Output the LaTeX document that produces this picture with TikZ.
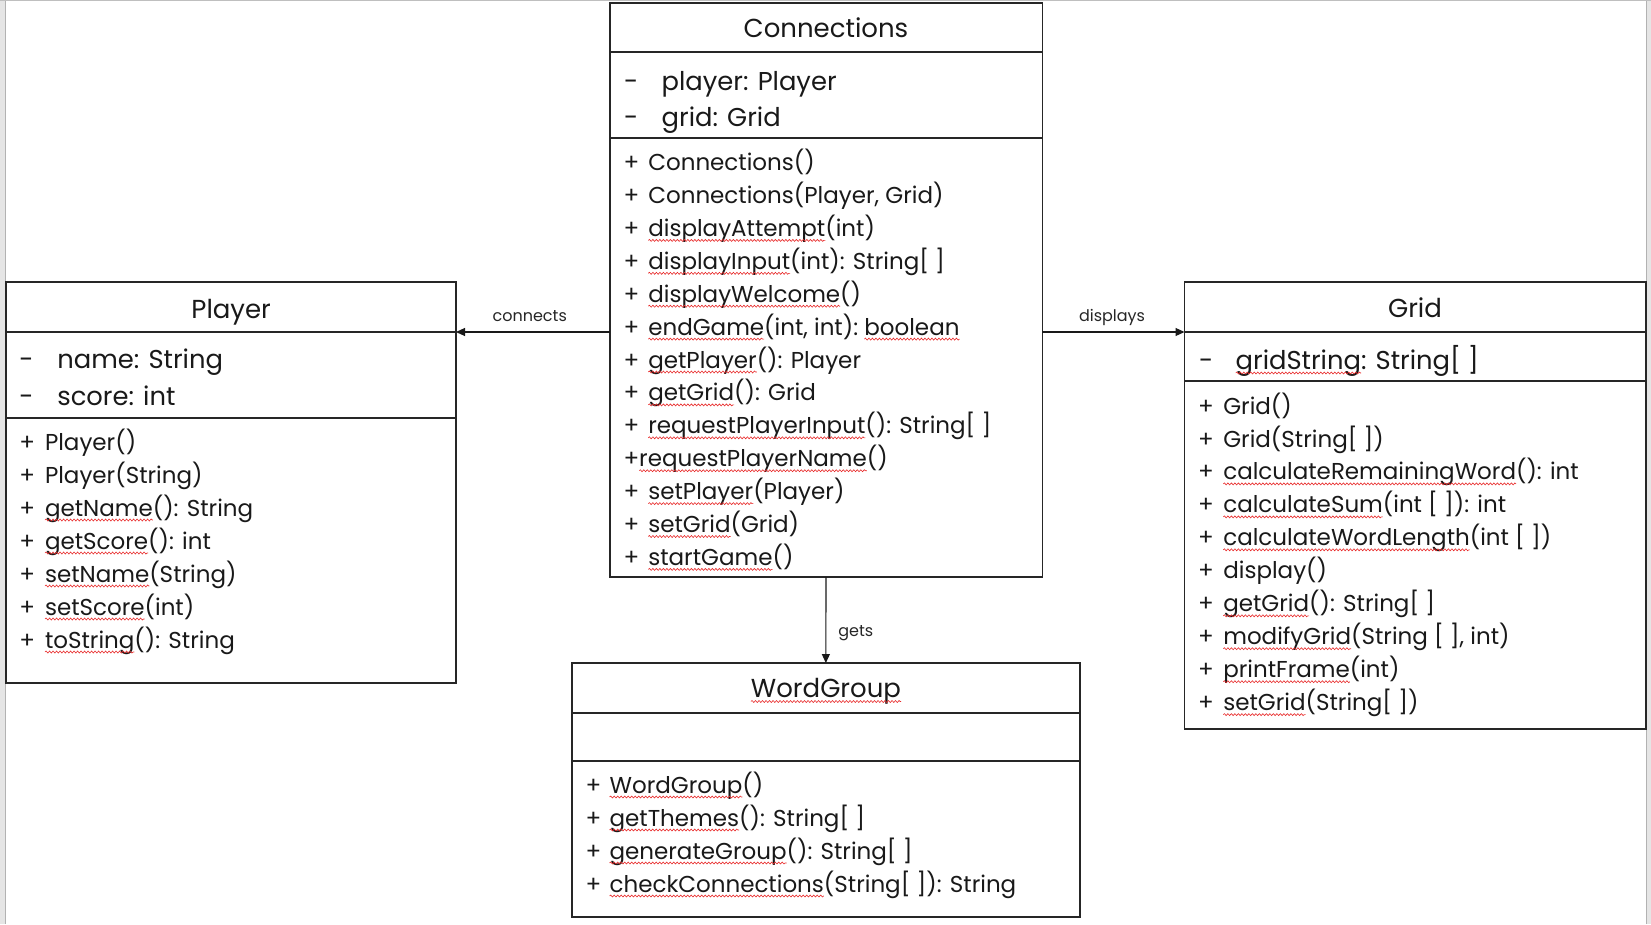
\documentclass[tikz,border=0pt]{standalone}
\usepackage{fontspec}
\setmainfont{Poppins}
\usetikzlibrary{arrows.meta,decorations.pathmorphing}
\newcounter{lnc}
\newcommand\Tp[3]{\stepcounter{lnc}\node[#1,anchor=base west] (p\thelnc) at #2 {#3};\coordinate (nx) at (p\thelnc.base east);}
\newcommand\Tq[3]{\stepcounter{lnc}\node[#1,anchor=base west] (q\thelnc) at #2 {#3};\draw[squig] ([yshift=-4pt]q\thelnc.base west) -- ([yshift=-4pt]q\thelnc.base east);\coordinate (nx) at (q\thelnc.base east);}
\begin{document}
\begin{tikzpicture}[x=1pt,y=-1pt,
  classbox/.style={draw=black!85, line width=1.8pt, rectangle, inner sep=0, outer sep=0, anchor=north west},
  sepline/.style={draw=black!85, line width=1.8pt},
  ttl/.style={font=\fontsize{26}{30}\selectfont, text=black!90, inner sep=0, outer sep=0},
  attxt/.style={font=\fontsize{25.8}{30}\selectfont, text=black!90, inner sep=0, outer sep=0},
  mt/.style={font=\fontsize{23}{26}\selectfont, text=black!90, inner sep=0, outer sep=0},
  lbl/.style={font=\fontsize{16}{20}\selectfont, text=black!85, inner sep=0, outer sep=0},
  arr/.style={draw=black!90, line width=1.1pt, -{Triangle[length=9pt,width=8pt]}},
  squig/.style={draw={rgb,255:red,232;green,40;blue,40}, line width=0.6pt, decorate, decoration={snake, amplitude=1pt, segment length=3.5pt}}
]
\useasboundingbox (0,0) rectangle (1651,924);
\fill[white] (0,0) rectangle (1651,924);
% screenshot frame
\fill[black!10] (0,0) rectangle (5,924);
\draw[black!30, line width=1pt] (5.5,0) -- (5.5,924);
\fill[black!10] (1647,0) rectangle (1651,924);
\draw[black!30, line width=1pt] (1646.8,0) -- (1646.8,924);
\draw[black!25, line width=1.2pt] (0,0.6) -- (1651,0.6);

% class boxes
\node[classbox, minimum width=432.8pt, minimum height=574pt] (conn) at (609.6,3) {};
\node[classbox, minimum width=449.7pt, minimum height=401pt] (player) at (6.3,282) {};
\node[classbox, minimum width=461.2pt, minimum height=446.6pt] (grid) at (1184.5,282) {};
\node[classbox, minimum width=508.3pt, minimum height=254pt] (wg) at (571.7,663) {};

% separators
\draw[sepline] ([yshift=-48.6pt]conn.north west) -- ([yshift=-48.6pt]conn.north east);
\draw[sepline] ([yshift=-135pt]conn.north west) -- ([yshift=-135pt]conn.north east);
\draw[sepline] ([yshift=-50pt]player.north west) -- ([yshift=-50pt]player.north east);
\draw[sepline] ([yshift=-136pt]player.north west) -- ([yshift=-136pt]player.north east);
\draw[sepline] ([yshift=-50pt]grid.north west) -- ([yshift=-50pt]grid.north east);
\draw[sepline] ([yshift=-99pt]grid.north west) -- ([yshift=-99pt]grid.north east);
\draw[sepline] ([yshift=-50pt]wg.north west) -- ([yshift=-50pt]wg.north east);
\draw[sepline] ([yshift=-98pt]wg.north west) -- ([yshift=-98pt]wg.north east);

% titles
\node[ttl, anchor=base] (tconn) at (826,37.3) {Connections};
\node[ttl, anchor=base] (tplayer) at (231.2,318.3) {Player};
\node[ttl, anchor=base] (tgrid) at (1415,317.7) {Grid};
\node[ttl, anchor=base] (twg) at (826,697.5) {WordGroup};
\draw[squig] ([yshift=-4pt]twg.base west) -- ([yshift=-4pt]twg.base east);

% Connections attributes
\Tp{attxt}{(624,90)}{-}
\Tp{attxt}{(661.7,90)}{player: Player}
\Tp{attxt}{(624,126.7)}{-}
\Tp{attxt}{(661.7,126.7)}{grid: Grid}

% Connections methods
\Tp{mt}{(623.5,170.6)}{+}\Tp{mt}{(648.3,170.6)}{Connections()}
\Tp{mt}{(623.5,203.5)}{+}\Tp{mt}{(648.3,203.5)}{Connections(Player, Grid)}
\Tp{mt}{(623.5,236.4)}{+}\Tq{mt}{(648.3,236.4)}{displayAttempt}\Tp{mt}{(nx)}{(int)}
\Tp{mt}{(623.5,269.3)}{+}\Tq{mt}{(648.3,269.3)}{displayInput}\Tp{mt}{(nx)}{(int): String[ ]}
\Tp{mt}{(623.5,302.2)}{+}\Tq{mt}{(648.3,302.2)}{displayWelcome}\Tp{mt}{(nx)}{()}
\Tp{mt}{(623.5,335.1)}{+}\Tq{mt}{(648.3,335.1)}{endGame}\Tp{mt}{(nx)}{(int, int):\ \null}\Tq{mt}{(nx)}{boolean}
\Tp{mt}{(623.5,368.0)}{+}\Tq{mt}{(648.3,368.0)}{getPlayer}\Tp{mt}{(nx)}{(): Player}
\Tp{mt}{(623.5,400.9)}{+}\Tq{mt}{(648.3,400.9)}{getGrid}\Tp{mt}{(nx)}{(): Grid}
\Tp{mt}{(623.5,433.8)}{+}\Tq{mt}{(648.3,433.8)}{requestPlayerInput}\Tp{mt}{(nx)}{(): String[ ]}
\Tp{mt}{(623.5,466.7)}{+}\Tq{mt}{(nx)}{requestPlayerName}\Tp{mt}{(nx)}{()}
\Tp{mt}{(623.5,499.6)}{+}\Tq{mt}{(648.3,499.6)}{setPlayer}\Tp{mt}{(nx)}{(Player)}
\Tp{mt}{(623.5,532.5)}{+}\Tq{mt}{(648.3,532.5)}{setGrid}\Tp{mt}{(nx)}{(Grid)}
\Tp{mt}{(623.5,565.4)}{+}\Tq{mt}{(648.3,565.4)}{startGame}\Tp{mt}{(nx)}{()}

% Player attributes
\Tp{attxt}{(19.5,368.3)}{-}
\Tp{attxt}{(57.3,368.3)}{name: String}
\Tp{attxt}{(19.5,405)}{-}
\Tp{attxt}{(57.3,405)}{score: int}

% Player methods
\Tp{mt}{(19.5,450)}{+}\Tp{mt}{(45,450)}{Player()}
\Tp{mt}{(19.5,483)}{+}\Tp{mt}{(45,483)}{Player(String)}
\Tp{mt}{(19.5,516)}{+}\Tq{mt}{(45,516)}{getName}\Tp{mt}{(nx)}{(): String}
\Tp{mt}{(19.5,549)}{+}\Tq{mt}{(45,549)}{getScore}\Tp{mt}{(nx)}{(): int}
\Tp{mt}{(19.5,582)}{+}\Tq{mt}{(45,582)}{setName}\Tp{mt}{(nx)}{(String)}
\Tp{mt}{(19.5,615)}{+}\Tq{mt}{(45,615)}{setScore}\Tp{mt}{(nx)}{(int)}
\Tp{mt}{(19.5,648)}{+}\Tq{mt}{(45,648)}{toString}\Tp{mt}{(nx)}{(): String}

% Grid attribute
\Tp{attxt}{(1199,369)}{-}
\Tq{attxt}{(1235.7,369)}{gridString}\Tp{attxt}{(nx)}{: String[ ]}

% Grid methods
\Tp{mt}{(1198,414)}{+}\Tp{mt}{(1223.3,414)}{Grid()}
\Tp{mt}{(1198,447)}{+}\Tp{mt}{(1223.3,447)}{Grid(String[ ])}
\Tp{mt}{(1198,479.9)}{+}\Tq{mt}{(1223.3,479.9)}{calculateRemainingWord}\Tp{mt}{(nx)}{(): int}
\Tp{mt}{(1198,512.9)}{+}\Tq{mt}{(1223.3,512.9)}{calculateSum}\Tp{mt}{(nx)}{(int [ ]): int}
\Tp{mt}{(1198,545.8)}{+}\Tq{mt}{(1223.3,545.8)}{calculateWordLength}\Tp{mt}{(nx)}{(int [ ])}
\Tp{mt}{(1198,578.8)}{+}\Tp{mt}{(1223.3,578.8)}{display()}
\Tp{mt}{(1198,611.8)}{+}\Tq{mt}{(1223.3,611.8)}{getGrid}\Tp{mt}{(nx)}{(): String[ ]}
\Tp{mt}{(1198,644.7)}{+}\Tq{mt}{(1223.3,644.7)}{modifyGrid}\Tp{mt}{(nx)}{(String [ ], int)}
\Tp{mt}{(1198,677.7)}{+}\Tq{mt}{(1223.3,677.7)}{printFrame}\Tp{mt}{(nx)}{(int)}
\Tp{mt}{(1198,710.6)}{+}\Tq{mt}{(1223.3,710.6)}{setGrid}\Tp{mt}{(nx)}{(String[ ])}

% WordGroup methods
\Tp{mt}{(585.5,793)}{+}\Tq{mt}{(609.6,793)}{WordGroup}\Tp{mt}{(nx)}{()}
\Tp{mt}{(585.5,826)}{+}\Tq{mt}{(609.6,826)}{getThemes}\Tp{mt}{(nx)}{(): String[ ]}
\Tp{mt}{(585.5,859)}{+}\Tq{mt}{(609.6,859)}{generateGroup}\Tp{mt}{(nx)}{(): String[ ]}
\Tp{mt}{(585.5,892)}{+}\Tq{mt}{(609.6,892)}{checkConnections}\Tp{mt}{(nx)}{(String[ ]): String}

% connectors
\draw[arr] ([yshift=-329pt]conn.north west) -- ([yshift=-50pt]player.north east)
  node[lbl, pos=0.52, anchor=base, yshift=11pt] (lconn) {connects};
\draw[arr] ([yshift=-329pt]conn.north east) -- ([yshift=-50pt]grid.north west)
  node[lbl, pos=0.49, anchor=base, yshift=11pt] (ldisp) {displays};
\draw[arr] (conn.south) -- (wg.north)
  node[lbl, pos=0.686, anchor=base west, xshift=12.5pt] (lgets) {gets};
\end{tikzpicture}
\end{document}
